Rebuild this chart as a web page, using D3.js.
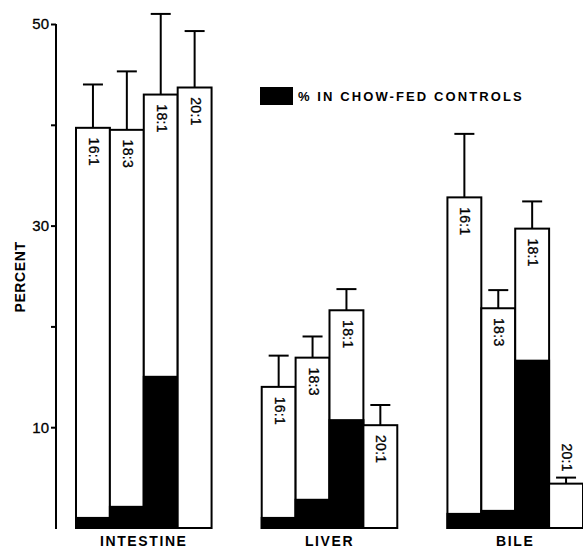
<!DOCTYPE html>
<html>
<head>
<meta charset="utf-8">
<script src="https://cdn.jsdelivr.net/npm/d3@7"></script>
<style>
  html, body { margin: 0; padding: 0; background: #fff; }
  svg { display: block; font-family: "Liberation Sans", Arial, Helvetica, sans-serif; }
</style>
</head>
<body>
<svg id="chart" width="583" height="549"></svg>
<script>
// Tissue groups and the fatty acids measured in each
const tissues = ["INTESTINE", "LIVER", "BILE"];
const acids = ["16:1", "18:3", "18:1", "20:1"];

// Percent values per tissue (order follows `acids`)
const intestineValues = [39.7, 39.5, 43.0, 43.7];
const liverValues = [14.0, 16.9, 21.6, 10.2];
const bileValues = [32.8, 21.8, 29.7, 4.4];

// Upper error (value + SE)
const intestineErrors = [44.0, 45.3, 51.0, 49.3];
const liverErrors = [17.1, 19.0, 23.7, 12.2];
const bileErrors = [39.1, 23.6, 32.4, 5.0];

// Percent in chow-fed controls (black portion)
const intestineControls = [1.0, 2.1, 15.0, 0];
const liverControls = [1.0, 2.8, 10.7, 0];
const bileControls = [1.4, 1.7, 16.6, 0];

const yTicks = [10, 20, 30, 40, 50];
const yTickLabels = ["10", "", "30", "", "50"];
const legendLabel = "% IN CHOW-FED CONTROLS";
const yLabel = "PERCENT";

const valuesByTissue = [intestineValues, liverValues, bileValues];
const errorsByTissue = [intestineErrors, liverErrors, bileErrors];
const controlsByTissue = [intestineControls, liverControls, bileControls];

const rows = [];
tissues.forEach((t, i) => {
  acids.forEach((a, j) => {
    rows.push({
      tissue: t, acid: a,
      value: valuesByTissue[i][j],
      err: errorsByTissue[i][j],
      control: controlsByTissue[i][j]
    });
  });
});

const svg = d3.select("#chart");

const y = d3.scaleLinear().domain([0, 50]).range([528, 24]);
const x0 = d3.scaleBand().domain(tissues).range([76, 583]).paddingInner(0.27).paddingOuter(0);
const x1 = d3.scaleBand().domain(acids).range([0, x0.bandwidth()]).padding(0);

// Left axis
const axis = d3.axisLeft(y)
  .tickValues(yTicks)
  .tickFormat((d, i) => yTickLabels[i])
  .tickSize(5)
  .tickPadding(2);

const axisG = svg.append("g")
  .attr("transform", "translate(56,0)")
  .call(axis);
axisG.select(".domain")
  .attr("d", `M0,${y(50)}V${y(0) + 1}`)
  .attr("stroke", "#000").attr("stroke-width", 2);
axisG.selectAll(".tick line").attr("stroke", "#000").attr("stroke-width", 2);
axisG.selectAll(".tick text")
  .attr("fill", "#000")
  .attr("font-size", 15)
  .attr("stroke", "#000").attr("stroke-width", 0.3)
  .attr("font-family", "'Liberation Sans', Arial, sans-serif");

// Y label
svg.append("text")
  .attr("transform", `translate(25,${277}) rotate(-90)`)
  .attr("text-anchor", "middle")
  .attr("font-size", 14)
  .attr("font-weight", "bold")
  .attr("letter-spacing", 0.6)
  .text(yLabel);

const groups = svg.append("g").selectAll("g.bar")
  .data(rows)
  .join("g")
  .attr("class", "bar")
  .attr("transform", d => `translate(${x0(d.tissue) + x1(d.acid)},0)`);

const bw = x1.bandwidth();

// Error bars
groups.append("line")
  .attr("x1", bw / 2).attr("x2", bw / 2)
  .attr("y1", d => y(d.value)).attr("y2", d => y(d.err))
  .attr("stroke", "#000").attr("stroke-width", 2);
groups.append("line")
  .attr("x1", bw / 2 - 10).attr("x2", bw / 2 + 10)
  .attr("y1", d => y(d.err)).attr("y2", d => y(d.err))
  .attr("stroke", "#000").attr("stroke-width", 2);

// Bars (white with black outline)
groups.append("rect")
  .attr("x", 0).attr("width", bw)
  .attr("y", d => y(d.value))
  .attr("height", d => y(0) - y(d.value))
  .attr("fill", "#fff").attr("stroke", "#000").attr("stroke-width", 2);

// Control portion
groups.filter(d => d.control > 0).append("rect")
  .attr("x", 0).attr("width", bw)
  .attr("y", d => y(d.control))
  .attr("height", d => y(0) - y(d.control))
  .attr("fill", "#000").attr("stroke", "#000").attr("stroke-width", 2);

// Rotated fatty-acid labels
groups.append("text")
  .attr("transform", d => {
    const inside = y(0) - y(d.value) > 45;
    const cy = inside ? y(d.value) + 24 : y(d.err) - 20;
    return `translate(${bw / 2 + 1},${cy}) rotate(90)`;
  })
  .attr("text-anchor", "middle")
  .attr("dy", "0.35em")
  .attr("font-size", 14)
  .attr("stroke", "#000").attr("stroke-width", 0.3)
  .attr("letter-spacing", 0.3)
  .text(d => d.acid);

// Tissue labels
svg.append("g").selectAll("text")
  .data(tissues)
  .join("text")
  .attr("x", d => x0(d) + x0.bandwidth() / 2)
  .attr("y", 546)
  .attr("text-anchor", "middle")
  .attr("font-size", 14)
  .attr("font-weight", "bold")
  .attr("letter-spacing", 1.6)
  .text(d => d);

// Legend
const legend = svg.append("g").attr("transform", "translate(260,87)");
legend.append("rect").attr("width", 33).attr("height", 18).attr("fill", "#000");
legend.append("text")
  .attr("x", 38).attr("y", 14)
  .attr("font-size", 13)
  .attr("font-weight", "bold")
  .attr("letter-spacing", 2.1)
  .text(legendLabel);
</script>
</body>
</html>
